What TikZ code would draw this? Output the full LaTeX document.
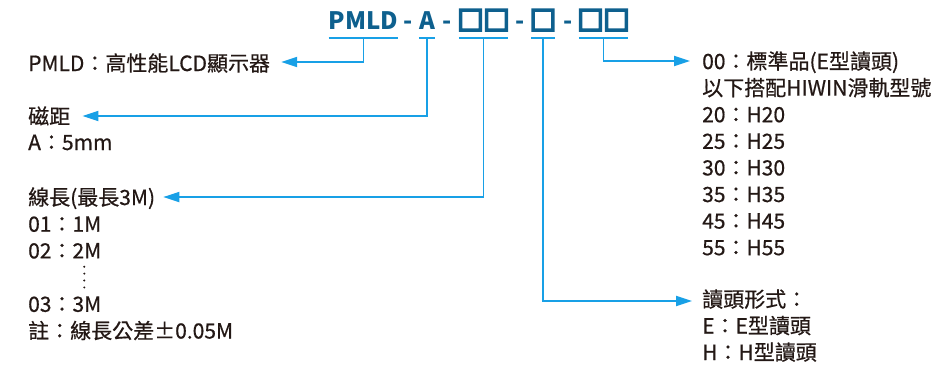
\documentclass[tikz,border=0pt]{standalone}
\usepackage{fontspec}
\setmainfont{Noto Sans CJK TC}
\newfontfamily\bodyfont{Noto Sans CJK TC}[FakeBold=0.6]
\newfontfamily\boxfont{Noto Sans CJK TC}[FakeBold=10]
\usetikzlibrary{arrows.meta,calc}
\definecolor{hdr}{RGB}{14,96,142}
\definecolor{lnc}{RGB}{24,160,230}
\definecolor{txt}{RGB}{35,24,21}
\begin{document}
\begin{tikzpicture}[x=1pt,y=-1pt,
  hd/.style={font=\fontsize{24}{28}\selectfont\bfseries, text=hdr, inner sep=0pt, anchor=base},
  hdbox/.style={font=\fontsize{26}{30}\selectfont\boxfont, text=hdr, inner sep=0pt, anchor=base},
  lbl/.style={font=\fontsize{21}{25}\selectfont\bodyfont, text=txt, inner sep=0pt, anchor=base west},
  uline/.style={draw=lnc, line width=1.8pt},
  conn/.style={draw=lnc, line width=1.8pt, -{Triangle[length=16pt,width=10pt]}},
  dotmark/.style={fill=txt, draw=none}
]
\useasboundingbox (0,0) rectangle (950,368);

% header code
\node[hd] (h1) at (363.5,29) {PMLD};
\node[hd] (h2) at (408,29) {-};
\node[hd] (h3) at (427,29) {A};
\node[hd] (h4) at (447,29) {-};
\node[hdbox] (h5) at (483.5,30) {□□};
\node[hd] (h6) at (520,29) {-};
\node[hdbox] (h7) at (543,30) {□};
\node[hd] (h8) at (568,29) {-};
\node[hdbox] (h9) at (603.5,30) {□□};

% underlines
\foreach \n in {1,3}{
  \draw[uline] ($(h\n.base west)+(0,9)$) -- ($(h\n.base east)+(0,9)$);
  \coordinate (u\n) at ($(h\n.base)+(0,9)$);
}
\foreach \n in {5,7,9}{
  \draw[uline] ($(h\n.base west)+(1.5,8)$) -- ($(h\n.base east)+(-1.5,8)$);
  \coordinate (u\n) at ($(h\n.base)+(0,8)$);
}

% left texts
\node[lbl] (t1) at (28,71) {PMLD：高性能LCD顯示器};
\node[lbl] (t2) at (28,124) {磁距};
\node[lbl] (t3) at (28,150) {A：5mm};
\node[lbl] (t4) at (28,205) {線長(最長3M)};
\node[lbl] (t5) at (28,231.7) {01：1M};
\node[lbl] (t6) at (28,258.4) {02：2M};
\node[lbl] (t7) at (28,311.8) {03：3M};
\node[lbl] (t8) at (28,338.5) {註：線長公差±0.05M};
\foreach \yy in {266.7,273.6,280.5,287.4}
  \fill[dotmark] (84.3,\yy) circle (1.1pt);

% right texts
\node[lbl] (r1) at (702,69) {00：標準品(E型讀頭)};
\node[lbl] (r2) at (702,95.6) {以下搭配HIWIN滑軌型號};
\node[lbl] (r3) at (702,122.2) {20：H20};
\node[lbl] (r4) at (702,148.8) {25：H25};
\node[lbl] (r5) at (702,175.4) {30：H30};
\node[lbl] (r6) at (702,202) {35：H35};
\node[lbl] (r7) at (702,228.6) {45：H45};
\node[lbl] (r8) at (702,255.2) {55：H55};
\node[lbl] (s1) at (702,307) {讀頭形式：};
\node[lbl] (s2) at (702,333.5) {E：E型讀頭};
\node[lbl] (s3) at (702,360) {H：H型讀頭};

% arrow tips
\coordinate (a1) at ($(t1.base east)+(11,-9)$);
\coordinate (a3) at ($(t2.base east)+(12,-8)$);
\coordinate (a5) at ($(t4.base east)+(8,-8)$);
\coordinate (a9) at ($(r1.base west)+(-12,-8)$);
\coordinate (a7) at ($(s1.base west)+(-10,-6)$);

% connectors
\draw[conn] (u1) |- (a1);
\draw[conn] (u3) |- (a3);
\draw[conn] (u5) |- (a5);
\draw[conn] (u9) |- (a9);
\draw[conn] (u7) |- (a7);
\end{tikzpicture}
\end{document}
